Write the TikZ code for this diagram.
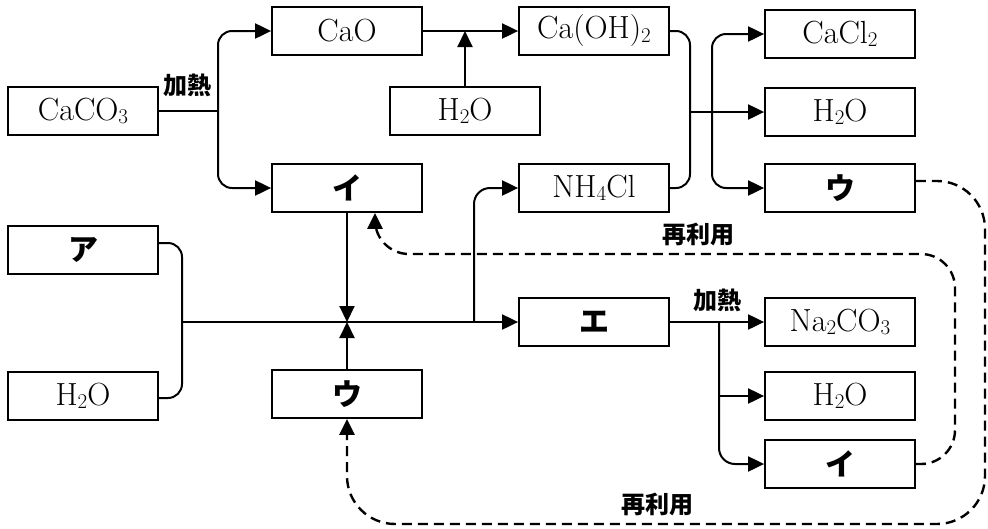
\documentclass[tikz,border=0pt]{standalone}
\usepackage{fontspec}
\newfontfamily\jp{Noto Sans CJK JP}
\usetikzlibrary{arrows.meta,calc}
\newcommand{\chsub}[1]{\raisebox{-0.1em}{\fontsize{21}{22}\selectfont #1}}
\tikzset{
  box/.style={draw, line width=1.8pt, minimum width=150pt, minimum height=48pt, inner sep=0pt, font=\fontsize{32}{34}\selectfont},
  kbox/.style={box, font=\jp\bfseries\fontsize{30}{34}\selectfont},
  lbl/.style={font=\jp\bfseries\fontsize{24}{28}\selectfont, inner sep=0pt},
  ln/.style={line width=2pt},
  arr/.style={ln, -{Triangle[length=16pt,width=15pt]}},
  darr/.style={line width=2.4pt, dash pattern=on 10pt off 6pt, -{Triangle[length=16pt,width=15pt]}}
}
\begin{document}
\begin{tikzpicture}[x=1pt,y=-1pt]
\useasboundingbox (0,0) rectangle (988,528);
\node[box] (caco3) at (83,111) {CaCO\chsub{3}};
\node[box] (cao) at (347,31) {CaO};
\node[box] (caoh) at (594,31) {Ca(OH)\chsub{2}};
\node[box] (h2ot) at (465,111) {H\chsub{2}O};
\node[kbox] (i1) at (347,188) {イ};
\node[box] (nh4) at (594,188) {NH\chsub{4}Cl};
\node[box] (cacl2) at (840,34) {CaCl\chsub{2}};
\node[box] (h2or) at (840,112) {H\chsub{2}O};
\node[kbox] (ur) at (840,188) {ウ};
\node[kbox] (a) at (83,250) {ア};
\node[box] (h2ol) at (83,396) {H\chsub{2}O};
\node[kbox] (u2) at (347,394) {ウ};
\node[kbox] (e) at (594,322) {エ};
\node[box] (na) at (840,322) {Na\chsub{2}CO\chsub{3}};
\node[box] (h2ob) at (840,396) {H\chsub{2}O};
\node[kbox] (i2) at (840,464) {イ};

\node[lbl] (heat1) at (187,85) {加熱};
\node[lbl] (heat2) at (717,300) {加熱};
\node[lbl] (re1) at (698,234) {再利用};
\node[lbl] (re2) at (657,504) {再利用};

\coordinate (s1) at (218,111);
\coordinate (bk) at (690,112);
\coordinate (s2) at (712,112);
\coordinate (am) at (182,322);
\coordinate (J) at (347,322);
\coordinate (nb) at (474,322);
\coordinate (s3) at (719,322);
\coordinate (cm) at (465,31);

% CaCO3 heating split
\draw[ln] (caco3.east) -- (s1);
\draw[arr, rounded corners=14pt] (s1) |- (cao.west);
\draw[arr, rounded corners=14pt] (s1) |- (i1.west);
% CaO + H2O -> Ca(OH)2
\draw[arr] (cao.east) -- (caoh.west);
\draw[arr] (h2ot.north) -- (cm);
% bracket Ca(OH)2 + NH4Cl
\draw[ln, rounded corners=14pt] (caoh.east) -- (690,31) -- (690,188) -- (nh4.east);
\draw[arr] (bk) -- (h2or.west);
\draw[arr, rounded corners=14pt] (s2) |- (cacl2.west);
\draw[arr, rounded corners=14pt] (s2) |- (ur.west);
% A + H2O
\draw[ln, rounded corners=14pt] ($(a.east)+(0,-7)$) -- (182,243) -- (182,398) -- ($(h2ol.east)+(0,2)$);
\draw[arr] (am) -- (e.west);
\draw[arr] (i1.south) -- (J);
\draw[arr] (u2.north) -- (J);
\draw[arr, rounded corners=16pt] (nb) |- (nh4.west);
% E heating
\draw[arr] (e.east) -- (na.west);
\draw[arr, rounded corners=16pt] (s3) |- (i2.west);
\draw[arr] (719,396) -- (h2ob.west);
% recycle loops
\draw[darr, rounded corners=48pt] ($(ur.east)+(0,-7)$) -- (985,181) -- (985,524) -- (347,524) -- (u2.south);
\draw[darr, rounded corners=34pt] (i2.east) -- (955,464) -- (955,254) -- (375,254) -- ($(i1.south)+(28,0)$);
\end{tikzpicture}
\end{document}
